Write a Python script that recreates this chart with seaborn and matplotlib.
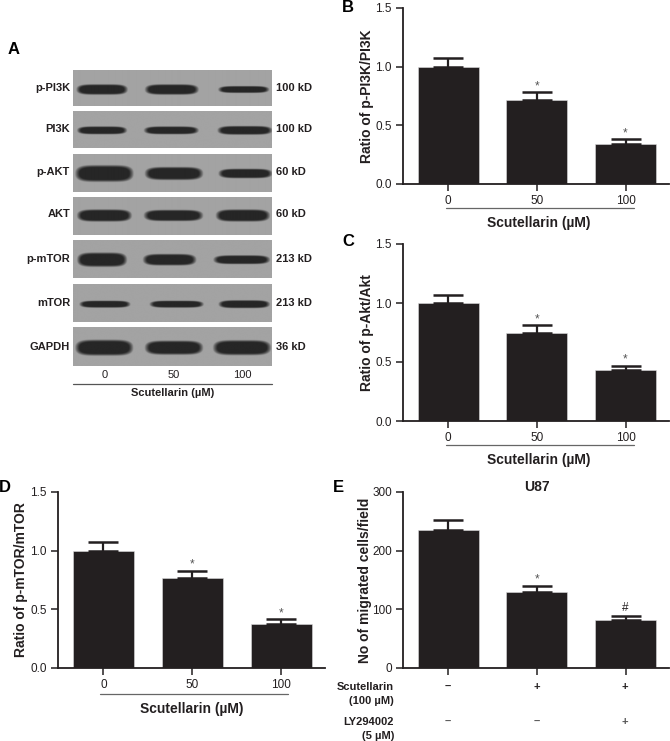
import numpy as np
import pandas as pd
import matplotlib
matplotlib.use("Agg")
import matplotlib.pyplot as plt
import seaborn as sns

W, H = 670, 741
doses = ["0", "50", "100"]
b_vals = [1.0, 0.72, 0.34]
b_errs = [0.07, 0.06, 0.04]
c_vals = [1.0, 0.75, 0.43]
c_errs = [0.07, 0.06, 0.04]
d_vals = [1.0, 0.77, 0.375]
d_errs = [0.07, 0.06, 0.04]
e_groups = ["g1", "g2", "g3"]
e_vals = [235, 129, 81]
e_errs = [17, 11, 7]
blot_names = ["p-PI3K", "PI3K", "p-AKT", "AKT", "p-mTOR", "mTOR", "GAPDH"]
blot_sizes = ["100 kD", "100 kD", "60 kD", "60 kD", "213 kD", "213 kD", "36 kD"]

sns.set_theme(style="ticks")
plt.rcParams["font.family"] = ["Liberation Sans", "DejaVu Sans"]
plt.rcParams["axes.linewidth"] = 1.3
INK = "#231f20"
fig = plt.figure(figsize=(W / 100, H / 100), dpi=100, facecolor="white")


def px_axes(l, t, r, b, **kw):
    return fig.add_axes([l / W, 1 - b / H, (r - l) / W, (b - t) / H], **kw)


def ftext(x, y, s, **kw):
    kw.setdefault("color", INK)
    kw.setdefault("va", "center")
    fig.text(x / W, 1 - y / H, s, **kw)


def bar_panel(box, cats, vals, errs, ymax, yticks, ylabel, marks, lab_x):
    ax = px_axes(*box)
    df = pd.DataFrame({"cat": cats, "val": vals})
    sns.barplot(data=df, x="cat", y="val", ax=ax, color=INK, saturation=1,
                width=0.69, edgecolor="#dddddd", linewidth=0.4)
    ax.errorbar(range(3), vals, yerr=[[0] * 3, errs], fmt="none", ecolor=INK,
                elinewidth=1.6, capsize=11, capthick=1.8)
    ax.set_xlim(-0.51, 2.49)
    ax.set_ylim(0, ymax)
    ax.set_yticks(yticks)
    ax.set_xlabel("")
    ax.set_ylabel("")
    ax.tick_params(axis="both", length=5, width=1.1, color=INK, labelcolor=INK, labelsize=8.5, pad=3)
    ax.spines["left"].set_color(INK)
    ax.spines["bottom"].set_color(INK)
    sns.despine(ax=ax)
    for i, m in enumerate(marks):
        if m:
            ax.annotate(m, (i, vals[i] + errs[i]), xytext=(0, 1.5 if m == "#" else 0),
                        textcoords="offset points", ha="center", va="bottom",
                        fontsize=8.5, color="#555555" if m == "*" else INK)
    t, b = box[1], box[3]
    ftext(lab_x, (t + b) / 2, ylabel, rotation=90, ha="center", fontsize=10, fontweight="bold")
    return ax


def dose_axis(x0, x1, line_y, label_y, cx):
    fig.add_artist(plt.Line2D([x0 / W, x1 / W], [1 - line_y / H] * 2, color="#666666", lw=0.9))
    ftext(cx, label_y, "Scutellarin (µM)", ha="center", fontsize=10, fontweight="bold")


# Panel A: blot drawn as an image per row (zoom coordinates /3)
rects = [(120, 228), (244, 354), (371, 485), (501, 615), (631, 745), (763, 875), (892, 1008)]
bands = [
    (178, [(233, 380, 24), (438, 592, 24), (657, 803, 16)]),
    (301, [(235, 378, 18), (435, 592, 18), (655, 812, 20)]),
    (429, [(230, 397, 38), (438, 605, 30), (658, 812, 22)]),
    (556, [(235, 392, 28), (435, 605, 26), (650, 805, 28)]),
    (691, [(235, 378, 32), (432, 585, 26), (643, 805, 20)]),
    (822, [(242, 388, 16), (452, 607, 16), (658, 805, 18)]),
    (953, [(230, 396, 36), (438, 605, 32), (642, 808, 34)]),
]
X0, X1 = 220, 815
for (top, bot), (cy, row), name, size in zip(rects, bands, blot_names, blot_sizes):
    ax = px_axes(X0 / 3, 30 + top / 3, X1 / 3, 30 + bot / 3)
    xs = np.arange(X0, X1, 1.0)
    ys = np.arange(top, bot, 1.0)
    xx, yy = np.meshgrid(xs, ys)
    img = np.full(xx.shape, 0.64)
    for a, b, h in row:
        d = (np.abs(xx - (a + b) / 2) / ((b - a) / 2)) ** 5 + (np.abs(yy - cy) / (h * 0.62)) ** 2.5
        alpha = np.clip((1.35 - d) / 0.8, 0, 1)
        img = img * (1 - alpha) + 0.15 * alpha
    ax.imshow(img, cmap="gray", vmin=0, vmax=1, aspect="auto", interpolation="bilinear",
              extent=(X0, X1, bot, top))
    ax.axis("off")
    ftext(70, 30 + cy / 3 - 1, name, ha="right", fontsize=8, fontweight="bold")
    ftext(276, 30 + cy / 3 - 1, size, ha="left", fontsize=8, fontweight="bold")
for x, s in zip([105, 174, 242], doses):
    ftext(x, 375, s, ha="center", fontsize=8)
fig.add_artist(plt.Line2D([73 / W, 272 / W], [1 - 384 / H] * 2, color="#555555", lw=0.9))
ftext(173, 393, "Scutellarin (µM)", ha="center", fontsize=8, fontweight="bold")

marks3 = ["", "*", "*"]
tk = [0, 0.5, 1.0, 1.5]
bar_panel((403, 8, 669, 184), doses, b_vals, b_errs, 1.5, tk, "Ratio of p-PI3K/PI3K", marks3, 367)
dose_axis(446, 634, 208, 223, 539)
bar_panel((403, 244, 669, 421), doses, c_vals, c_errs, 1.5, tk, "Ratio of p-Akt/Akt", marks3, 367)
dose_axis(446, 634, 445, 460, 539)
bar_panel((58, 492, 325, 668), doses, d_vals, d_errs, 1.5, tk, "Ratio of p-mTOR/mTOR", marks3, 21)
dose_axis(100, 288, 694, 709, 192)
ax_e = bar_panel((403, 492, 669, 668), e_groups, e_vals, e_errs, 300, [0, 100, 200, 300],
                 "No of migrated cells/field", ["", "*", "#"], 365)
ax_e.set_xticklabels([])
ftext(537, 487, "U87", ha="center", fontsize=10, fontweight="bold")

for y, lines in [(694, "Scutellarin\n(100 µM)"), (729, "LY294002\n(5 µM)")]:
    ftext(394, y, lines, ha="right", fontsize=8, fontweight="bold", linespacing=1.5)
for x, s in zip([448, 537, 625], ["–", "+", "+"]):
    ftext(x, 687, s, ha="center", fontsize=8, fontweight="bold")
for x, s in zip([448, 537, 625], ["–", "–", "+"]):
    ftext(x, 722, s, ha="center", fontsize=8, color="#555555", fontweight="bold")

for x, y, s in [(14, 49, "A"), (348, 7, "B"), (348, 241, "C"), (5, 487, "D"), (338, 487, "E")]:
    ftext(x, y, s, ha="center", fontsize=12, fontweight="bold", color="black")

fig.savefig("out.png", dpi=100)
